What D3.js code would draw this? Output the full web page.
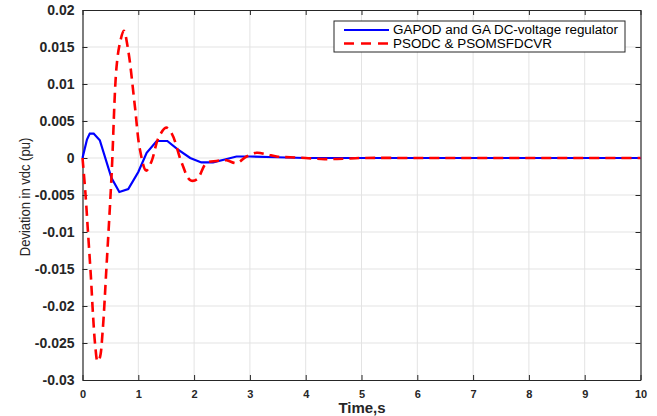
<!DOCTYPE html>
<html><head><meta charset="utf-8">
<script src="https://cdn.jsdelivr.net/npm/d3@7"></script>
<style>body{margin:0;background:#fff}</style>
</head><body><svg id="c" width="657" height="416"></svg>
<script>
const xTicks = [0,1,2,3,4,5,6,7,8,9,10];
const yTicks = [0.02,0.015,0.01,0.005,0,-0.005,-0.01,-0.015,-0.02,-0.025,-0.03];
const yTickLabels = ["0.02","0.015","0.01","0.005","0","-0.005","-0.01","-0.015","-0.02","-0.025","-0.03"];
const seriesNames = ["GAPOD and GA DC-voltage regulator","PSODC & PSOMSFDCVR"];
const blueT = [0,0.08,0.13,0.2,0.31,0.52,0.66,0.82,1.0,1.15,1.33,1.52,1.7,1.93,2.13,2.34,2.55,2.76,3.0,3.48,4.0,5,6,7,8,9,10];
const blueV = [0,0.0025,0.0033,0.0033,0.0024,-0.0027,-0.0046,-0.0042,-0.0019,0.0007,0.0023,0.0023,0.0012,0,-0.0006,-0.0006,-0.0002,0.0002,0.0002,0.0001,0,0,0,0,0,0,0];
const redT = [0,0.05,0.10,0.15,0.19,0.23,0.27,0.31,0.36,0.43,0.52,0.61,0.67,0.74,0.82,0.94,1.03,1.14,1.24,1.36,1.50,1.60,1.78,1.93,2.05,2.22,2.40,2.58,2.76,2.94,3.12,3.30,3.48,3.72,4.0,4.34,4.67,5,6,7,8,9,10];
const redV = [0,-0.0045,-0.0102,-0.016,-0.0214,-0.0255,-0.0275,-0.027,-0.0235,-0.0147,-0.0025,0.0123,0.0155,0.0172,0.0145,0.0069,0.0011,-0.0017,-0.0004,0.0027,0.0041,0.0033,-0.0007,-0.0030,-0.0029,-0.0007,-0.0004,-0.0003,-0.0007,0.0002,0.0007,0.0005,0.0002,0.0001,0,-0.00015,-0.0001,0,0,0,0,0,0];

const svg = d3.select("#c");
const L=82.5, R=640.5, T=10, B=380;
const x = d3.scaleLinear().domain([0,10]).range([L,R]);
const y = d3.scaleLinear().domain([-0.03,0.02]).range([B,T]);
const axC = "#262626", gridC = "#e3e3e3";
const font = "'Liberation Sans', Arial, sans-serif";

// grid
svg.append("g").selectAll("line").data(xTicks.slice(1,-1)).join("line")
  .attr("x1",d=>x(d)).attr("x2",d=>x(d)).attr("y1",T).attr("y2",B)
  .attr("stroke",gridC).attr("stroke-width",1);
svg.append("g").selectAll("line").data(yTicks.slice(1,-1)).join("line")
  .attr("y1",d=>y(d)).attr("y2",d=>y(d)).attr("x1",L).attr("x2",R)
  .attr("stroke",gridC).attr("stroke-width",1);

// axes (ticks inward)
const fmtY = d=>yTickLabels[yTicks.indexOf(d)];
const gx = svg.append("g").attr("transform",`translate(0,${B})`)
  .call(d3.axisBottom(x).tickValues(xTicks).tickSizeInner(-5).tickSizeOuter(0).tickPadding(10).tickFormat(d3.format("d")));
const gxt = svg.append("g").attr("transform",`translate(0,${T})`)
  .call(d3.axisTop(x).tickValues(xTicks).tickSizeInner(-5).tickSizeOuter(0).tickFormat(""));
const gy = svg.append("g").attr("transform",`translate(${L},0)`)
  .call(d3.axisLeft(y).tickValues(yTicks).tickSizeInner(-5).tickSizeOuter(0).tickPadding(8).tickFormat(fmtY));
const gyr = svg.append("g").attr("transform",`translate(${R},0)`)
  .call(d3.axisRight(y).tickValues(yTicks).tickSizeInner(-5).tickSizeOuter(0).tickFormat(""));
[gx,gxt,gy,gyr].forEach(g=>{
  g.selectAll("path").attr("stroke",axC).attr("stroke-width",1.2);
  g.selectAll("line").attr("stroke",axC);
  g.selectAll("text").attr("fill",axC).attr("font-family",font).attr("font-weight","bold");
});
gy.selectAll("text").attr("font-size","14px");
gx.selectAll("text").attr("font-size","11px").attr("dy",null).attr("y",17.5);

// lines
const blueData = blueT.map((t,i)=>[t,blueV[i]]);
const redData = redT.map((t,i)=>[t,redV[i]]);
svg.append("path").datum(blueData)
  .attr("d",d3.line().x(d=>x(d[0])).y(d=>y(d[1])))
  .attr("fill","none").attr("stroke","#0000ff").attr("stroke-width",2.2);
svg.append("path").datum(redData)
  .attr("d",d3.line().x(d=>x(d[0])).y(d=>y(d[1])).curve(d3.curveCatmullRom))
  .attr("fill","none").attr("stroke","#ff0000").attr("stroke-width",2.6).attr("stroke-dasharray","10,6");

// labels
svg.append("text").attr("x",362).attr("y",413).attr("text-anchor","middle")
  .attr("font-family",font).attr("font-size","15px").attr("font-weight","bold").attr("fill",axC).text("Time,s");
svg.append("text").attr("transform",`translate(30,197) scale(1.15,1) rotate(-90)`).attr("text-anchor","middle")
  .attr("font-family",font).attr("font-size","13px").attr("fill",axC).text("Deviation in vdc (pu)");

// legend
const lg = svg.append("g");
lg.append("rect").attr("x",334).attr("y",21).attr("width",291).attr("height",31)
  .attr("fill","#fff").attr("stroke",axC).attr("stroke-width",1);
const rows = [{c:"#0000ff",dash:null,w:2.2,len:225},{c:"#ff0000",dash:"10,7",w:2.6,len:159}];
rows.forEach((r,i)=>{
  const yy = 30 + i*13.5;
  lg.append("line").attr("x1",344).attr("x2",389).attr("y1",yy).attr("y2",yy)
    .attr("stroke",r.c).attr("stroke-width",r.w).attr("stroke-dasharray",r.dash);
  lg.append("text").attr("x",393).attr("y",yy).attr("dy","0.35em")
    .attr("font-family",font).attr("font-size","12.5px").attr("fill","#000")
    .attr("textLength",r.len).attr("lengthAdjust","spacingAndGlyphs").text(seriesNames[i]);
});
</script></body></html>
